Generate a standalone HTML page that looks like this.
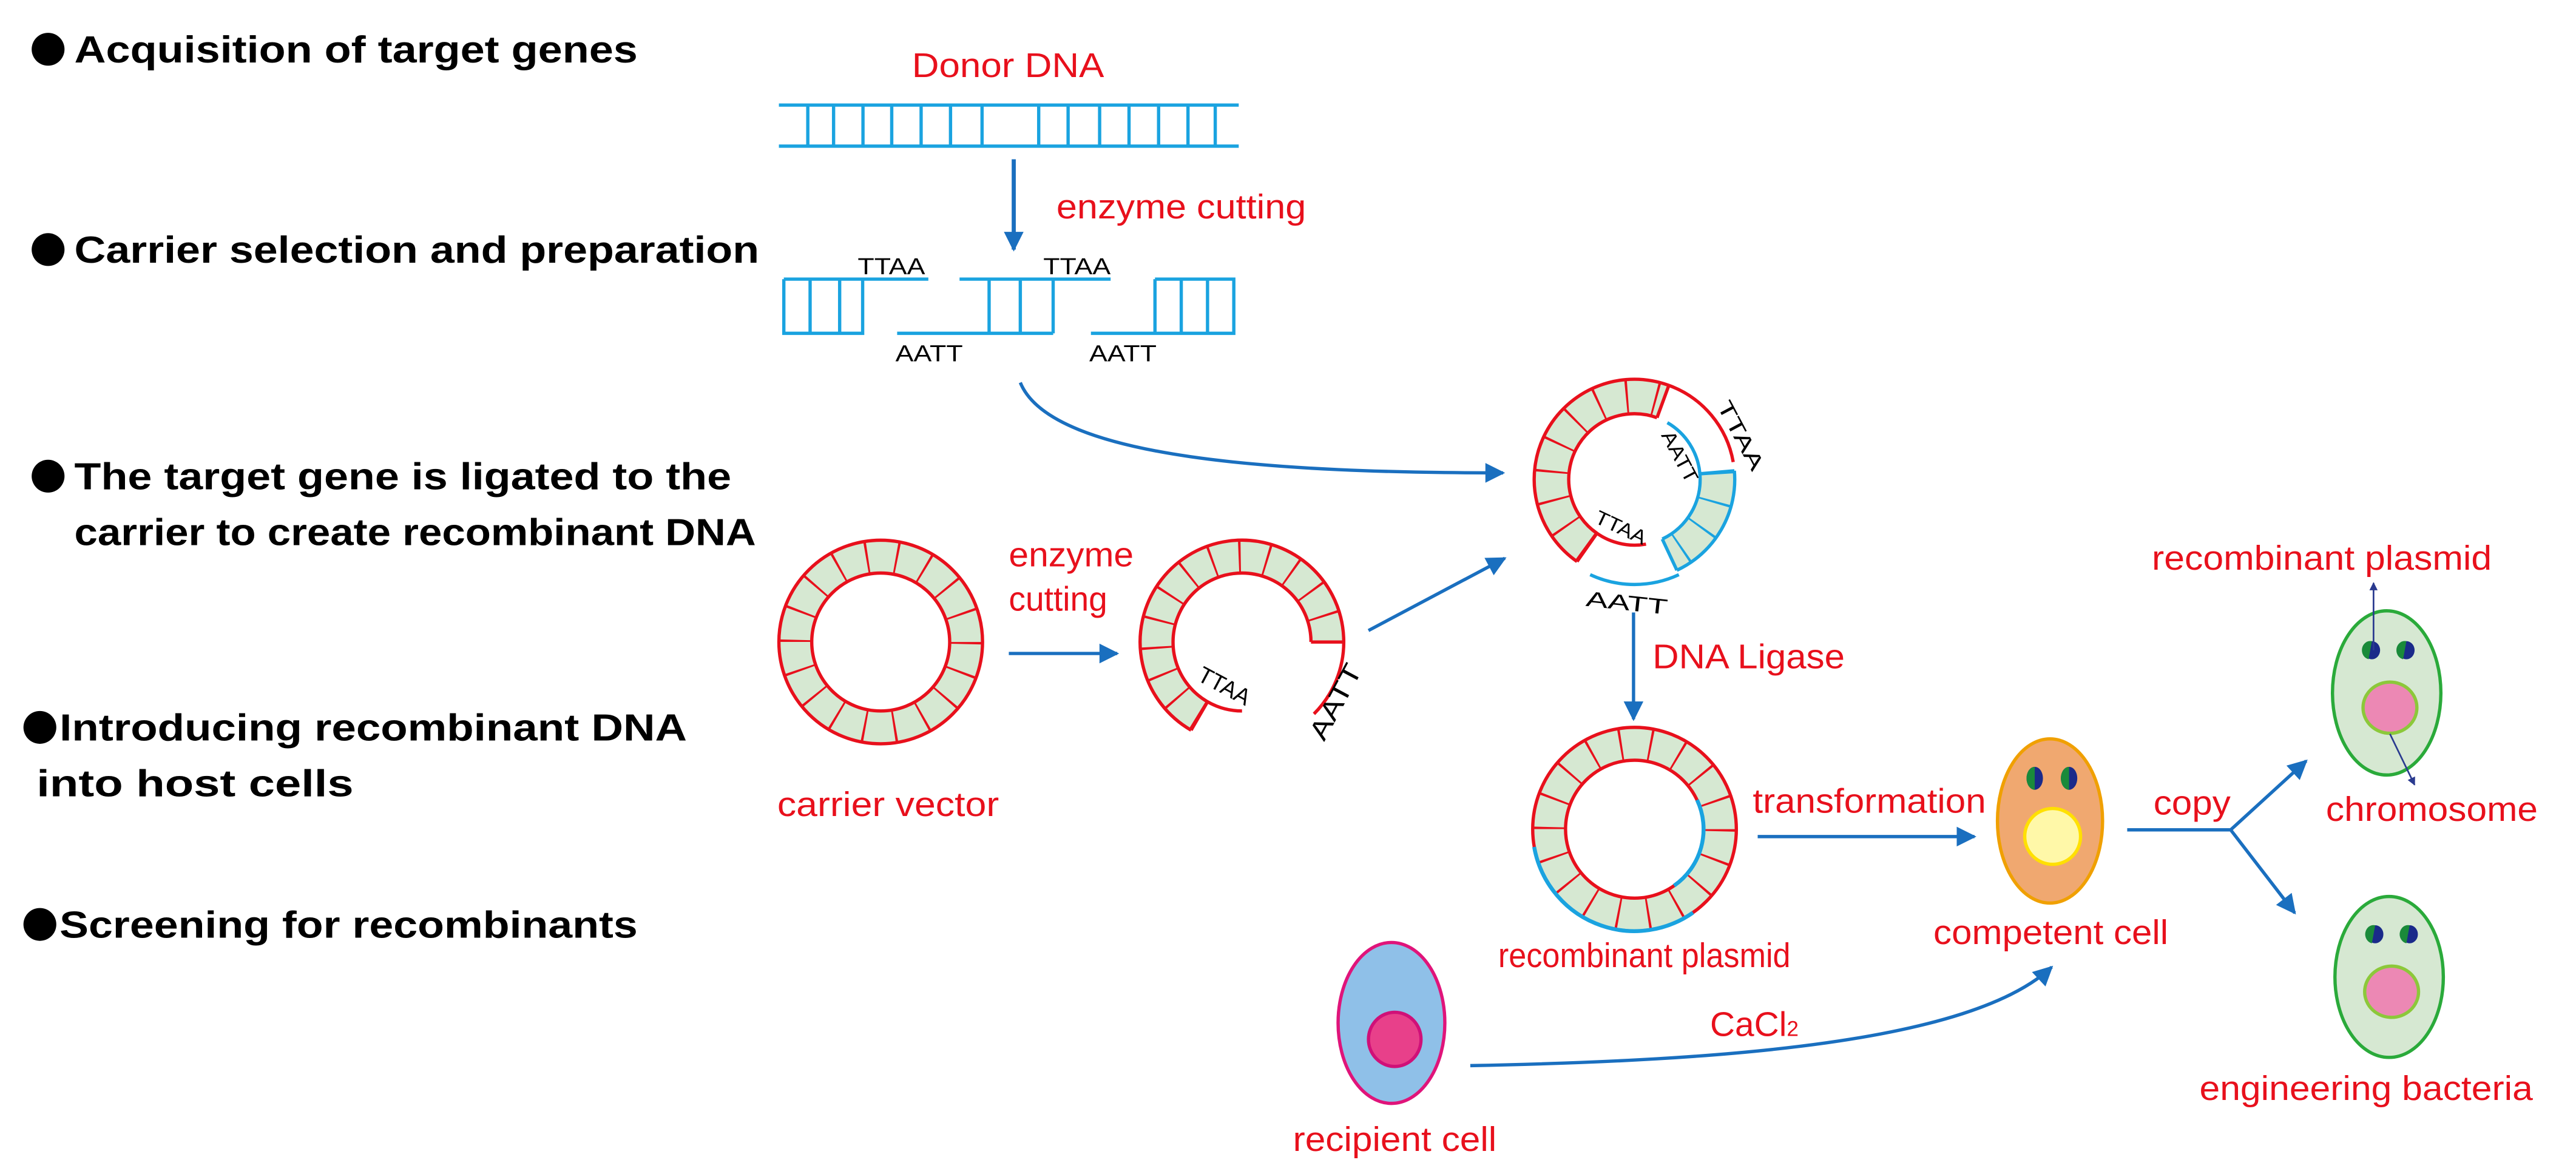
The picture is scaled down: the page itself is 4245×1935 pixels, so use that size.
<!DOCTYPE html>
<html><head><meta charset="utf-8"><style>
html,body{margin:0;padding:0;background:#fff;}
svg{display:block;}
.h{font-family:"Liberation Sans",sans-serif;font-weight:bold;font-size:23px;fill:#000;}
.r{font-family:"Liberation Sans",sans-serif;font-size:21px;fill:#e8101c;}
.k{font-family:"Liberation Sans",sans-serif;font-size:14px;fill:#000;}
</style></head><body>
<svg width="4245" height="1935" viewBox="0 0 1568 715" xmlns="http://www.w3.org/2000/svg">
<defs>
<marker id="ahb" viewBox="0 0 10 10" refX="9" refY="5" markerWidth="16" markerHeight="12" orient="auto" markerUnits="userSpaceOnUse">
<path d="M0,0 L10,5 L0,10 z" fill="#1a6fbf"/></marker>
<marker id="ahs" viewBox="0 0 10 10" refX="9" refY="5" markerWidth="5" markerHeight="5" orient="auto" markerUnits="userSpaceOnUse">
<path d="M0,0 L10,5 L0,10 z" fill="#2a3a8f"/></marker>
</defs>

<!-- Left headings -->
<circle cx="29" cy="30" r="10" fill="#000"/>
<text class="h" x="45" y="38" textLength="343" lengthAdjust="spacingAndGlyphs">Acquisition of target genes</text>
<circle cx="29" cy="152" r="10" fill="#000"/>
<text class="h" x="45" y="160" textLength="417" lengthAdjust="spacingAndGlyphs">Carrier selection and preparation</text>
<circle cx="29" cy="290" r="10" fill="#000"/>
<text class="h" x="45" y="298" textLength="400" lengthAdjust="spacingAndGlyphs">The target gene is ligated to the</text>
<text class="h" x="45" y="332" textLength="415" lengthAdjust="spacingAndGlyphs">carrier to create recombinant DNA</text>
<circle cx="24" cy="443" r="10" fill="#000"/>
<text class="h" x="36" y="451" textLength="382" lengthAdjust="spacingAndGlyphs">Introducing recombinant DNA</text>
<text class="h" x="22" y="485" textLength="193" lengthAdjust="spacingAndGlyphs">into host cells</text>
<circle cx="24" cy="563" r="10" fill="#000"/>
<text class="h" x="36" y="571" textLength="352" lengthAdjust="spacingAndGlyphs">Screening for recombinants</text>

<!-- Donor DNA -->
<text class="r" x="555" y="47" textLength="117" lengthAdjust="spacingAndGlyphs">Donor DNA</text>
<g stroke="#1aa3e0" stroke-width="2" fill="none">
<line x1="474" y1="64" x2="754" y2="64"/><line x1="474" y1="89" x2="754" y2="89"/>
<path d="M491.6 64V89M507.3 64V89M525.2 64V89M542.7 64V89M560.6 64V89M578.5 64V89M597.7 64V89M632.2 64V89M650.1 64V89M669.3 64V89M687.2 64V89M705.2 64V89M723.1 64V89M739.7 64V89"/>
<path d="M477 170H565M477 170V203H525V170M493 170V203M511 170V203"/>
<path d="M584 170H676M546 203H641M602 170V203M621 170V203M641 170V203"/>
<path d="M703 170H751V203H664M703 170V203M719 170V203M735 170V203"/>
</g>
<line x1="617" y1="97" x2="617" y2="152" stroke="#1a6fbf" stroke-width="2.5" marker-end="url(#ahb)"/>
<text class="r" x="643" y="133" textLength="152" lengthAdjust="spacingAndGlyphs">enzyme cutting</text>
<text class="k" x="522" y="167" textLength="41" lengthAdjust="spacingAndGlyphs">TTAA</text>
<text class="k" x="635" y="167" textLength="41" lengthAdjust="spacingAndGlyphs">TTAA</text>
<text class="k" x="545" y="220" textLength="41" lengthAdjust="spacingAndGlyphs">AATT</text>
<text class="k" x="663" y="220" textLength="41" lengthAdjust="spacingAndGlyphs">AATT</text>
<path d="M621 233 C640 280 780 288 915 288" stroke="#1a6fbf" stroke-width="2" fill="none" marker-end="url(#ahb)"/>

<!-- carrier vector ring -->
<g fill="none">
<circle cx="536" cy="391" r="52" stroke="#d6e8d2" stroke-width="20"/>
<circle cx="536" cy="391" r="52" stroke="#e8101c" stroke-width="20" stroke-dasharray="1.3 16.85"/>
<circle cx="536" cy="391" r="62" stroke="#e8101c" stroke-width="2"/>
<circle cx="536" cy="391" r="42" stroke="#e8101c" stroke-width="2"/>
</g>
<text class="r" x="473" y="497" textLength="135" lengthAdjust="spacingAndGlyphs">carrier vector</text>
<line x1="614" y1="398" x2="680" y2="398" stroke="#1a6fbf" stroke-width="2" marker-end="url(#ahb)"/>
<text class="r" x="614" y="345" textLength="76" lengthAdjust="spacingAndGlyphs">enzyme</text>
<text class="r" x="614" y="372" textLength="60" lengthAdjust="spacingAndGlyphs">cutting</text>

<!-- cut ring -->
<g fill="none">
<path d="M730 436 A52 52 0 1 1 808 391" stroke="#d6e8d2" stroke-width="20"/>
<path d="M730 436 A52 52 0 1 1 808 391" stroke="#e8101c" stroke-width="20" stroke-dasharray="1.3 15.45"/>
<path d="M725 444.7 A62 62 0 1 1 799.8 434.8" stroke="#e8101c" stroke-width="2"/>
<path d="M756 433 A42 42 0 1 1 798 391" stroke="#e8101c" stroke-width="2"/>
<path d="M735 427.4 L725 444.7 M798 391 L818 391" stroke="#e8101c" stroke-width="2"/>
</g>
<text class="k" x="728" y="414" transform="rotate(28 728 414)" textLength="34" lengthAdjust="spacingAndGlyphs">TTAA</text>
<text class="k" x="806" y="452" transform="rotate(-62 806 452)" style="font-size:16px" textLength="50" lengthAdjust="spacingAndGlyphs">AATT</text>
<line x1="833" y1="384" x2="916" y2="340" stroke="#1a6fbf" stroke-width="2" marker-end="url(#ahb)"/>

<!-- top recombinant ring (center 995,292) -->
<g fill="none">
<path d="M966 333.4 A50.5 50.5 0 0 1 1012.3 244.5" stroke="#d6e8d2" stroke-width="21"/>
<path d="M966 333.4 A50.5 50.5 0 0 1 1012.3 244.5" stroke="#e8101c" stroke-width="21" stroke-dasharray="1.3 16.3"/>
<path d="M960 342 A61 61 0 0 1 1015.9 234.7" stroke="#e8101c" stroke-width="2"/>
<path d="M972.1 324.8 A40 40 0 0 1 1008.7 254.4" stroke="#e8101c" stroke-width="2"/>
<path d="M960 342 L972.1 324.8 M1015.9 234.7 L1008.7 254.4" stroke="#e8101c" stroke-width="2"/>
<path d="M1015.9 234.7 A61 61 0 0 1 1055.1 281.4" stroke="#e8101c" stroke-width="2"/>
<path d="M1015 257.4 A40 40 0 0 1 1034.8 288.5" stroke="#1aa3e0" stroke-width="2"/>
<path d="M1045.3 287.6 A50.5 50.5 0 0 1 1016.3 337.8" stroke="#d6e8d2" stroke-width="21"/>
<path d="M1045.3 287.6 A50.5 50.5 0 0 1 1016.3 337.8" stroke="#1aa3e0" stroke-width="21" stroke-dasharray="1.3 16.3"/>
<path d="M1055.8 286.7 A61 61 0 0 1 1020.8 347.3" stroke="#1aa3e0" stroke-width="2"/>
<path d="M1034.8 288.5 A40 40 0 0 1 1011.9 328.3" stroke="#1aa3e0" stroke-width="2"/>
<path d="M1055.8 286.7 L1034.8 288.5 M1020.8 347.3 L1011.9 328.3" stroke="#1aa3e0" stroke-width="2"/>
<path d="M1002 331.4 A40 40 0 0 1 969.3 322.6" stroke="#e8101c" stroke-width="2"/>
<path d="M1022 350 A64 64 0 0 1 968 350" stroke="#1aa3e0" stroke-width="2"/>
</g>
<text class="k" x="1045" y="247" transform="rotate(62 1045 247)" style="font-size:13px" textLength="46" lengthAdjust="spacingAndGlyphs">TTAA</text>
<text class="k" x="1011" y="265" transform="rotate(62 1011 265)" style="font-size:12px" textLength="34" lengthAdjust="spacingAndGlyphs">AATT</text>
<text class="k" x="970" y="318" transform="rotate(25 970 318)" style="font-size:12px" textLength="33" lengthAdjust="spacingAndGlyphs">TTAA</text>
<text class="k" x="965" y="369" transform="rotate(6 965 369)" style="font-size:13px" textLength="50" lengthAdjust="spacingAndGlyphs">AATT</text>
<line x1="994.4" y1="373" x2="994.4" y2="438" stroke="#1a6fbf" stroke-width="2" marker-end="url(#ahb)"/>
<text class="r" x="1006" y="407" textLength="117" lengthAdjust="spacingAndGlyphs">DNA Ligase</text>

<!-- recombinant plasmid ring -->
<g fill="none">
<circle cx="995" cy="505" r="52" stroke="#d6e8d2" stroke-width="20"/>
<circle cx="995" cy="505" r="52" stroke="#e8101c" stroke-width="20" stroke-dasharray="1.3 16.85"/>
<circle cx="995" cy="505" r="62" stroke="#e8101c" stroke-width="2"/>
<circle cx="995" cy="505" r="42" stroke="#e8101c" stroke-width="2"/>
<path d="M1030.6 555.8 A62 62 0 0 1 933.9 515.8" stroke="#1aa3e0" stroke-width="2.4"/>
<path d="M1033.1 487.2 A42 42 0 0 1 1019.1 539.4" stroke="#1aa3e0" stroke-width="2.4"/>
</g>
<text class="r" x="912" y="589" textLength="178" lengthAdjust="spacingAndGlyphs">recombinant plasmid</text>
<line x1="1070" y1="509.5" x2="1202" y2="509.5" stroke="#1a6fbf" stroke-width="2" marker-end="url(#ahb)"/>
<text class="r" x="1067" y="495" textLength="142" lengthAdjust="spacingAndGlyphs">transformation</text>

<!-- competent cell -->
<ellipse cx="1248" cy="500" rx="32" ry="50" fill="#f0a870" stroke="#f0a000" stroke-width="2"/>
<circle cx="1249.6" cy="509.4" r="17" fill="#fff8a8" stroke="#ffe000" stroke-width="2"/>
<ellipse cx="1238.7" cy="474" rx="5" ry="7" fill="#1a2a8a"/><path d="M1238.7 467 A5 7 0 0 0 1238.7 481 Z" fill="#1a8a3a"/>
<ellipse cx="1259.6" cy="474" rx="5" ry="7" fill="#1a2a8a"/><path d="M1259.6 467 A5 7 0 0 0 1259.6 481 Z" fill="#1a8a3a"/>
<text class="r" x="1177" y="575" textLength="143" lengthAdjust="spacingAndGlyphs">competent cell</text>

<!-- copy -->
<path d="M1295 505.4 H1358" stroke="#1a6fbf" stroke-width="2"/>
<line x1="1358" y1="505.4" x2="1404" y2="463.4" stroke="#1a6fbf" stroke-width="2" marker-end="url(#ahb)"/>
<line x1="1358" y1="505.4" x2="1397" y2="556" stroke="#1a6fbf" stroke-width="2" marker-end="url(#ahb)"/>
<text class="r" x="1311" y="496" textLength="47" lengthAdjust="spacingAndGlyphs">copy</text>

<!-- engineered cells -->
<ellipse cx="1453" cy="422" rx="33" ry="50" fill="#d6e8d2" stroke="#2aaa3a" stroke-width="2"/>
<ellipse cx="1455" cy="431" rx="16.4" ry="15.6" fill="#ec88b4" stroke="#8cc83a" stroke-width="2"/>
<ellipse cx="1444" cy="396" rx="5" ry="5.5" fill="#1a2a8a"/><path d="M1444 390.5 A5 5.5 0 0 0 1442 401.5 Z" fill="#1a8a3a"/>
<ellipse cx="1465" cy="396" rx="5" ry="5.5" fill="#1a2a8a"/><path d="M1465 390.5 A5 5.5 0 0 0 1463 401.5 Z" fill="#1a8a3a"/>
<line x1="1445" y1="396" x2="1445" y2="355" stroke="#2a3a8f" stroke-width="1" marker-end="url(#ahs)"/>
<line x1="1455" y1="447" x2="1470" y2="478" stroke="#2a3a8f" stroke-width="1" marker-end="url(#ahs)"/>
<text class="r" x="1310" y="347" textLength="207" lengthAdjust="spacingAndGlyphs">recombinant plasmid</text>
<text class="r" x="1416" y="500" textLength="129" lengthAdjust="spacingAndGlyphs">chromosome</text>

<ellipse cx="1454.5" cy="595" rx="33" ry="49" fill="#d6e8d2" stroke="#2aaa3a" stroke-width="2"/>
<ellipse cx="1456" cy="604" rx="16.4" ry="15.6" fill="#ec88b4" stroke="#8cc83a" stroke-width="2"/>
<ellipse cx="1446" cy="569" rx="5" ry="5.5" fill="#1a2a8a"/><path d="M1446 563.5 A5 5.5 0 0 0 1444 574.5 Z" fill="#1a8a3a"/>
<ellipse cx="1467" cy="569" rx="5" ry="5.5" fill="#1a2a8a"/><path d="M1467 563.5 A5 5.5 0 0 0 1465 574.5 Z" fill="#1a8a3a"/>
<text class="r" x="1339" y="670" textLength="203" lengthAdjust="spacingAndGlyphs">engineering bacteria</text>

<!-- recipient cell -->
<ellipse cx="847" cy="623" rx="32.5" ry="49" fill="#8fc0e8" stroke="#e0147a" stroke-width="2"/>
<ellipse cx="849" cy="633" rx="16" ry="16.5" fill="#e8408a" stroke="#d01078" stroke-width="2"/>
<text class="r" x="787" y="701" textLength="124" lengthAdjust="spacingAndGlyphs">recipient cell</text>
<path d="M895 649 C1050 646 1200 635 1249 589" stroke="#1a6fbf" stroke-width="2" fill="none" marker-end="url(#ahb)"/>
<text class="r" x="1041" y="631">CaCl<tspan style="font-size:13px">2</tspan></text>
</svg>
</body></html>
